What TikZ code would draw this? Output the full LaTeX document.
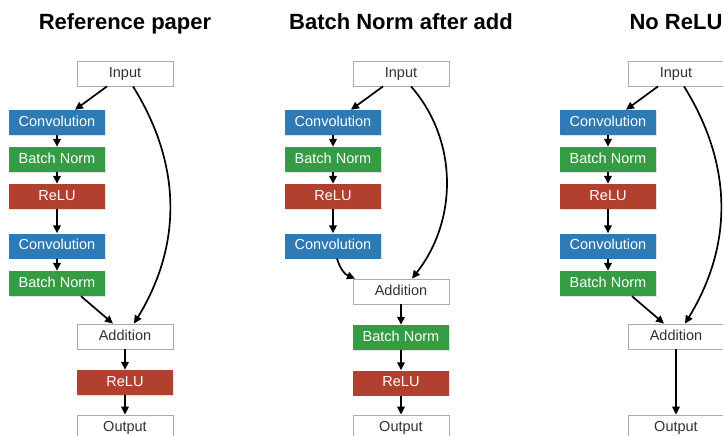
\documentclass[tikz,border=0pt]{standalone}
\usepackage{fontspec}
\setmainfont{Liberation Sans}
\usetikzlibrary{arrows.meta,shadows}
\definecolor{convblue}{RGB}{46,122,180}
\definecolor{bngreen}{RGB}{52,156,66}
\definecolor{relured}{RGB}{178,64,46}
\definecolor{txtgray}{RGB}{50,50,50}
\definecolor{bordgray}{RGB}{170,170,170}
\tikzset{
  box/.style={minimum width=96pt, minimum height=25pt, inner sep=0pt, text height=0.72em, text depth=0pt, font=\fontsize{14.5}{15}\selectfont},
  plainbox/.style={box, draw=bordgray, line width=0.8pt, fill=white, text=txtgray},
  colbox/.style={box, text=white, drop shadow={opacity=0.25, shadow xshift=0.6pt, shadow yshift=-0.8pt}},
  convbox/.style={colbox, fill=convblue},
  bnbox/.style={colbox, fill=bngreen},
  relubox/.style={colbox, fill=relured},
  ttl/.style={font=\fontsize{22}{24}\selectfont\bfseries, anchor=base},
  arr/.style={line width=1.7pt, -{Triangle[length=8pt,width=7.5pt]}},
}
\begin{document}
\begin{tikzpicture}[x=1pt,y=-1pt]
\useasboundingbox (0,0) rectangle (723,436);
\clip (0,0) rectangle (723,436);
% ---------- Panel 1 ----------
\node[ttl] (t1) at (125,30) {Reference paper};
\node[plainbox] (in1) at (125,73.5) {Input};
\node[convbox] (ca1) at (57,122.5) {Convolution};
\node[bnbox] (ba1) at (57,159.5) {Batch Norm};
\node[relubox] (ra1) at (57,196.5) {ReLU};
\node[convbox] (cb1) at (57,246) {Convolution};
\node[bnbox] (bb1) at (57,283.5) {Batch Norm};
\node[plainbox] (ad1) at (125,336.5) {Addition};
\node[relubox] (rb1) at (125,382.5) {ReLU};
\node[plainbox] (ou1) at (125,427.5) {Output};
\draw[arr] ([xshift=-18pt]in1.south) -- ([xshift=18pt]ca1.north);
\draw[arr] (ca1) -- (ba1);
\draw[arr] (ba1) -- (ra1);
\draw[arr] (ra1) -- (cb1);
\draw[arr] (cb1) -- (bb1);
\draw[arr] ([xshift=24pt]bb1.south) -- ([xshift=-12pt]ad1.north);
\draw[arr] ([xshift=8pt]in1.south) .. controls (182,165) and (182,245) .. ([xshift=9pt]ad1.north);
\draw[arr] (ad1) -- (rb1);
\draw[arr] (rb1) -- (ou1);
% ---------- Panel 2 ----------
\node[ttl] (t2) at (401,30) {Batch Norm after add};
\node[plainbox] (in2) at (401,73.5) {Input};
\node[convbox] (ca2) at (333,122.5) {Convolution};
\node[bnbox] (ba2) at (333,159.5) {Batch Norm};
\node[relubox] (ra2) at (333,196.5) {ReLU};
\node[convbox] (cb2) at (333,246) {Convolution};
\node[plainbox] (ad2) at (401,291.5) {Addition};
\node[bnbox] (bc2) at (401,337.5) {Batch Norm};
\node[relubox] (rb2) at (401,383) {ReLU};
\node[plainbox] (ou2) at (401,427.5) {Output};
\draw[arr] ([xshift=-18pt]in2.south) -- ([xshift=18pt]ca2.north);
\draw[arr] (ca2) -- (ba2);
\draw[arr] (ba2) -- (ra2);
\draw[arr] (ra2) -- (cb2);
\draw[arr] ([xshift=4pt]cb2.south) .. controls (340,268) and (344,274) .. ([xshift=-46pt]ad2.north);
\draw[arr] ([xshift=10pt]in2.south) .. controls (458,140) and (458,220) .. ([xshift=11pt]ad2.north);
\draw[arr] (ad2) -- (bc2);
\draw[arr] (bc2) -- (rb2);
\draw[arr] (rb2) -- (ou2);
% ---------- Panel 3 ----------
\node[ttl] (t3) at (676,30) {No ReLU};
\node[plainbox] (in3) at (676,73.5) {Input};
\node[convbox] (ca3) at (608,122.5) {Convolution};
\node[bnbox] (ba3) at (608,159.5) {Batch Norm};
\node[relubox] (ra3) at (608,196.5) {ReLU};
\node[convbox] (cb3) at (608,246) {Convolution};
\node[bnbox] (bb3) at (608,283.5) {Batch Norm};
\node[plainbox] (ad3) at (676,336.5) {Addition};
\node[plainbox] (ou3) at (676,427.5) {Output};
\draw[arr] ([xshift=-18pt]in3.south) -- ([xshift=18pt]ca3.north);
\draw[arr] (ca3) -- (ba3);
\draw[arr] (ba3) -- (ra3);
\draw[arr] (ra3) -- (cb3);
\draw[arr] (cb3) -- (bb3);
\draw[arr] ([xshift=24pt]bb3.south) -- ([xshift=-12pt]ad3.north);
\draw[arr] ([xshift=8pt]in3.south) .. controls (733,165) and (733,245) .. ([xshift=9pt]ad3.north);
\draw[arr] (ad3) -- (ou3);
\end{tikzpicture}
\end{document}
